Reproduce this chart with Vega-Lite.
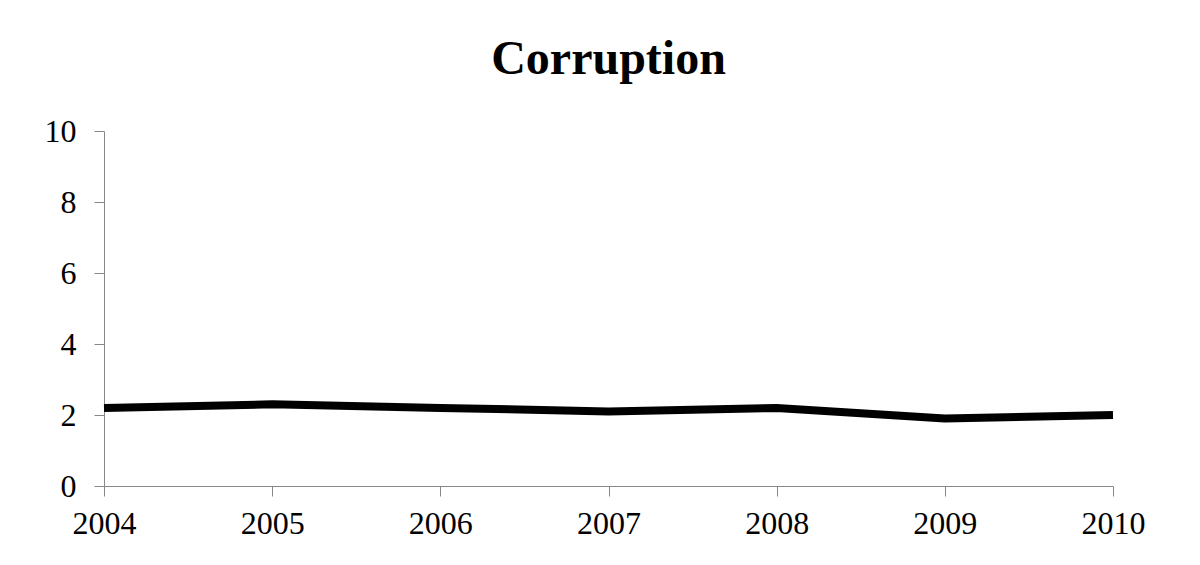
{
  "$schema": "https://vega.github.io/schema/vega-lite/v6.json",
  "autosize": "none",
  "width": 1009,
  "height": 355,
  "padding": {"left": 104, "top": 131, "right": 87, "bottom": 79},
  "background": "#ffffff",
  "title": {
    "text": "Corruption",
    "font": "Liberation Serif",
    "fontSize": 48,
    "fontWeight": "bold",
    "color": "#000000",
    "anchor": "middle",
    "frame": "group",
    "baseline": "alphabetic",
    "offset": 58,
    "dy": 65
  },
  "data": {
    "values": [
      {"year": 2004, "score": 2.2},
      {"year": 2005, "score": 2.3},
      {"year": 2006, "score": 2.2},
      {"year": 2007, "score": 2.1},
      {"year": 2008, "score": 2.2},
      {"year": 2009, "score": 1.9},
      {"year": 2010, "score": 2.0}
    ]
  },
  "mark": {"type": "line", "color": "#000000", "strokeWidth": 8, "strokeJoin": "round"},
  "encoding": {
    "x": {
      "field": "year",
      "type": "quantitative",
      "scale": {"domain": [2004, 2010], "nice": false, "zero": false},
      "axis": {
        "title": null,
        "values": [2004, 2005, 2006, 2007, 2008, 2009, 2010],
        "format": "d",
        "grid": false,
        "domainColor": "#888888",
        "tickColor": "#888888",
        "tickSize": 10,
        "labelFont": "Liberation Serif",
        "labelFontSize": 32,
        "labelColor": "#000000",
        "labelPadding": 12,
        "labelFlush": false,
        "labelOverlap": false
      }
    },
    "y": {
      "field": "score",
      "type": "quantitative",
      "scale": {"domain": [0, 10], "nice": false},
      "axis": {
        "title": null,
        "values": [0, 2, 4, 6, 8, 10],
        "grid": false,
        "domainColor": "#888888",
        "tickColor": "#888888",
        "tickSize": 10,
        "labelFont": "Liberation Serif",
        "labelFontSize": 32,
        "labelColor": "#000000",
        "labelPadding": 18
      }
    }
  },
  "config": {"view": {"stroke": null}}
}
